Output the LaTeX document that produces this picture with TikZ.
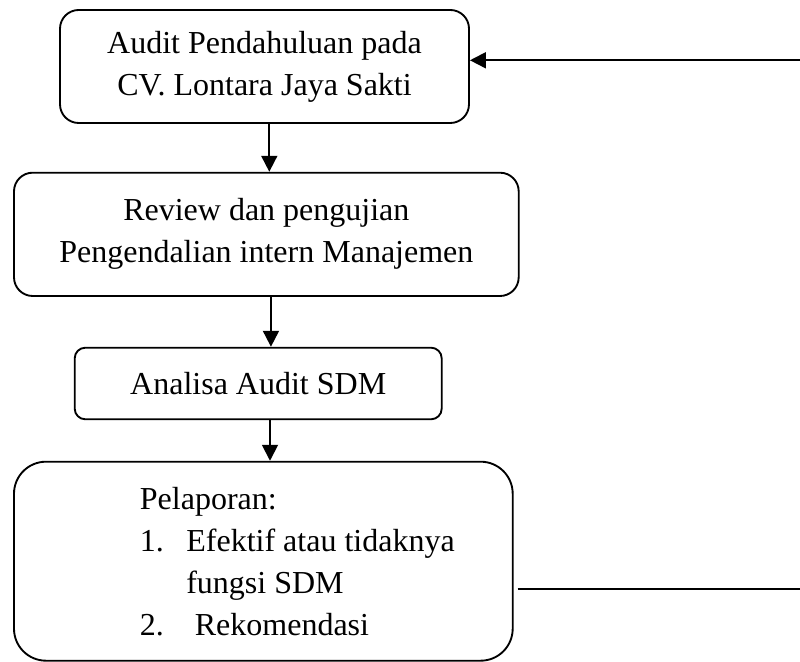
\documentclass[tikz,border=0pt]{standalone}
\usepackage{fontspec}
\setmainfont{Liberation Serif}
\usetikzlibrary{arrows.meta}

\tikzset{
  flowbox/.style={draw,rounded corners=#1,align=center,inner sep=0pt,
    font=\fontsize{12pt}{15.75pt}\selectfont},
  flowbox/.default=6pt,
  flowarrow/.style={-{Triangle[length=6pt,width=6pt]}}
}

\begin{document}
\begin{tikzpicture}[line width=.7pt,x=0.375pt,y=-0.375pt]
      \pgfmathsetmacro{\u}{0.375}
      \useasboundingbox (0,0) rectangle (800,662);

      \node[flowbox=7pt,minimum width=409*\u pt,minimum height=113*\u pt] (audit) at (264.5,66.5)
        {Audit Pendahuluan pada\\CV. Lontara Jaya Sakti};
      \node[flowbox=7pt,minimum width=504.7*\u pt,minimum height=123.3*\u pt] (review) at (266.35,234.35)
        {Review dan pengujian\\Pengendalian intern Manajemen};
      \node[flowbox=4pt,minimum width=367*\u pt,minimum height=71.6*\u pt] (analisa) at (258.2,383.5)
        {Analisa Audit SDM};
      \node[flowbox=12pt,minimum width=498.7*\u pt,minimum height=199*\u pt] (lapor) at (263.35,561.2) {};
      \node[anchor=base west,inner sep=0pt,font=\fontsize{12pt}{15.75pt}\selectfont] (laportxt) at (139,510)
        {\begin{tabular}[t]{@{}p{17.4pt}@{}l@{}}
          \multicolumn{2}{@{}l@{}}{Pelaporan:}\\
          1. & Efektif atau tidaknya\\
             & fungsi SDM\\
          2. & \hspace{3.2pt}Rekomendasi
        \end{tabular}};

      \coordinate (fbtop) at (800,60.3);
      \coordinate (fbbot) at (800,589);

      \draw[flowarrow] ([xshift=4.8*\u pt]audit.south) -- ([xshift=4.8*\u pt]audit.south |- review.north);
      \draw[flowarrow] ([xshift=4.6*\u pt]review.south) -- ([xshift=4.6*\u pt]review.south |- analisa.north);
      \draw[flowarrow] ([xshift=11.8*\u pt]analisa.south) -- ([xshift=11.8*\u pt]analisa.south |- lapor.north);
      \draw ([xshift=4*\u pt]lapor.east |- fbbot) -- (fbbot);
      \draw[flowarrow] (fbtop) -- (audit.east |- fbtop);
    \end{tikzpicture}
\end{document}
